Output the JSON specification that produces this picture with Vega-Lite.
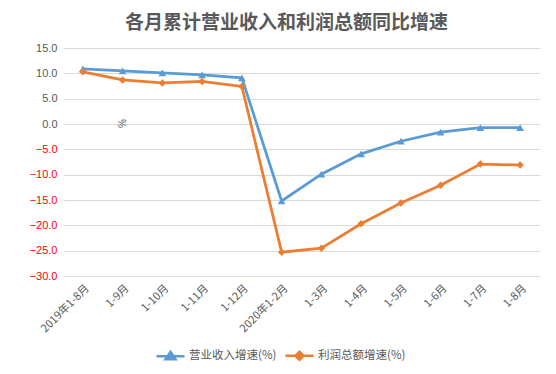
{
  "$schema": "https://vega.github.io/schema/vega-lite/v6.json",
  "width": 477,
  "height": 228,
  "autosize": {"type": "none"},
  "padding": {"left": 63, "top": 48, "right": 16, "bottom": 98},
  "background": "white",
  "title": {
    "text": "各月累计营业收入和利润总额同比增速",
    "font": "Noto Sans CJK SC",
    "fontSize": 19,
    "fontWeight": "bold",
    "color": "#595959",
    "anchor": "middle",
    "dx": -15,
    "offset": 9
  },
  "config": {
    "view": {"stroke": null},
    "axis": {"gridColor": "#D9D9D9", "domainColor": "#D9D9D9"}
  },
  "data": {
    "values": [
      {"month": "2019年1-8月", "series": "营业收入增速(%)", "value": 10.9},
      {"month": "1-9月", "series": "营业收入增速(%)", "value": 10.5},
      {"month": "1-10月", "series": "营业收入增速(%)", "value": 10.1},
      {"month": "1-11月", "series": "营业收入增速(%)", "value": 9.7},
      {"month": "1-12月", "series": "营业收入增速(%)", "value": 9.1},
      {"month": "2020年1-2月", "series": "营业收入增速(%)", "value": -15.2},
      {"month": "1-3月", "series": "营业收入增速(%)", "value": -9.9},
      {"month": "1-4月", "series": "营业收入增速(%)", "value": -5.9},
      {"month": "1-5月", "series": "营业收入增速(%)", "value": -3.4},
      {"month": "1-6月", "series": "营业收入增速(%)", "value": -1.6},
      {"month": "1-7月", "series": "营业收入增速(%)", "value": -0.7},
      {"month": "1-8月", "series": "营业收入增速(%)", "value": -0.7},
      {"month": "2019年1-8月", "series": "利润总额增速(%)", "value": 10.3},
      {"month": "1-9月", "series": "利润总额增速(%)", "value": 8.7},
      {"month": "1-10月", "series": "利润总额增速(%)", "value": 8.1},
      {"month": "1-11月", "series": "利润总额增速(%)", "value": 8.4},
      {"month": "1-12月", "series": "利润总额增速(%)", "value": 7.4},
      {"month": "2020年1-2月", "series": "利润总额增速(%)", "value": -25.3},
      {"month": "1-3月", "series": "利润总额增速(%)", "value": -24.5},
      {"month": "1-4月", "series": "利润总额增速(%)", "value": -19.7},
      {"month": "1-5月", "series": "利润总额增速(%)", "value": -15.6},
      {"month": "1-6月", "series": "利润总额增速(%)", "value": -12.1},
      {"month": "1-7月", "series": "利润总额增速(%)", "value": -7.9},
      {"month": "1-8月", "series": "利润总额增速(%)", "value": -8.1}
    ]
  },
  "encoding": {
    "x": {
      "field": "month",
      "type": "ordinal",
      "sort": null,
      "scale": {"type": "point", "padding": 0.5},
      "axis": {
        "title": null,
        "labelAngle": -45,
        "labelFont": "Noto Sans CJK SC",
        "labelFontSize": 11,
        "labelColor": "#595959",
        "labelPadding": 6,
        "ticks": false,
        "domain": false,
        "grid": false
      }
    },
    "y": {
      "field": "value",
      "type": "quantitative",
      "scale": {"domain": [-30, 15], "nice": false, "zero": false},
      "axis": {
        "values": [-30, -25, -20, -15, -10, -5, 0, 5, 10, 15],
        "format": ".1f",
        "labelFont": "Liberation Sans",
        "labelFontSize": 11,
        "labelColor": {"condition": {"test": "datum.value < 0", "value": "#FF0000"}, "value": "#595959"},
        "labelPadding": 6,
        "ticks": false,
        "domain": false,
        "grid": true,
        "title": "%",
        "titleX": 59,
        "titleY": 75,
        "titleAngle": -90,
        "titleAlign": "center",
        "titleBaseline": "middle",
        "titleFont": "Liberation Sans",
        "titleFontSize": 10,
        "titleFontWeight": "normal",
        "titleColor": "#595959"
      }
    },
    "color": {
      "field": "series",
      "type": "nominal",
      "scale": {"domain": ["营业收入增速(%)", "利润总额增速(%)"], "range": ["#5B9BD5", "#ED7D31"]},
      "legend": {
        "orient": "none",
        "legendX": 92,
        "legendY": 292,
        "direction": "horizontal",
        "title": null,
        "padding": 0,
        "symbolSize": 784,
        "symbolStrokeWidth": 2.5,
        "labelFont": "Noto Sans CJK SC",
        "labelFontSize": 11.5,
        "labelColor": "#595959",
        "labelOffset": 3,
        "columnPadding": 3,
        "encode": {
          "symbols": {
            "update": {
              "shape": {"signal": "datum.value === '营业收入增速(%)' ? 'M-1,0H1M-0.36,0.2L0,-0.32L0.36,0.2Z' : 'M-1,0H1M0,-0.29L0.29,0L0,0.29L-0.29,0Z'"},
              "stroke": {"signal": "datum.value === '营业收入增速(%)' ? '#5B9BD5' : '#ED7D31'"},
              "fill": {"signal": "datum.value === '营业收入增速(%)' ? '#5B9BD5' : '#ED7D31'"},
              "strokeWidth": {"value": 2.5},
              "opacity": {"value": 1}
            }
          }
        }
      }
    }
  },
  "layer": [
    {"mark": {"type": "line", "strokeWidth": 2.75}},
    {
      "transform": [{"filter": "datum.series === '营业收入增速(%)'"}],
      "mark": {"type": "point", "filled": true, "size": 60, "opacity": 1, "shape": "triangle-up"}
    },
    {
      "transform": [{"filter": "datum.series === '利润总额增速(%)'"}],
      "mark": {"type": "point", "filled": true, "size": 55, "opacity": 1, "shape": "diamond"}
    }
  ]
}
